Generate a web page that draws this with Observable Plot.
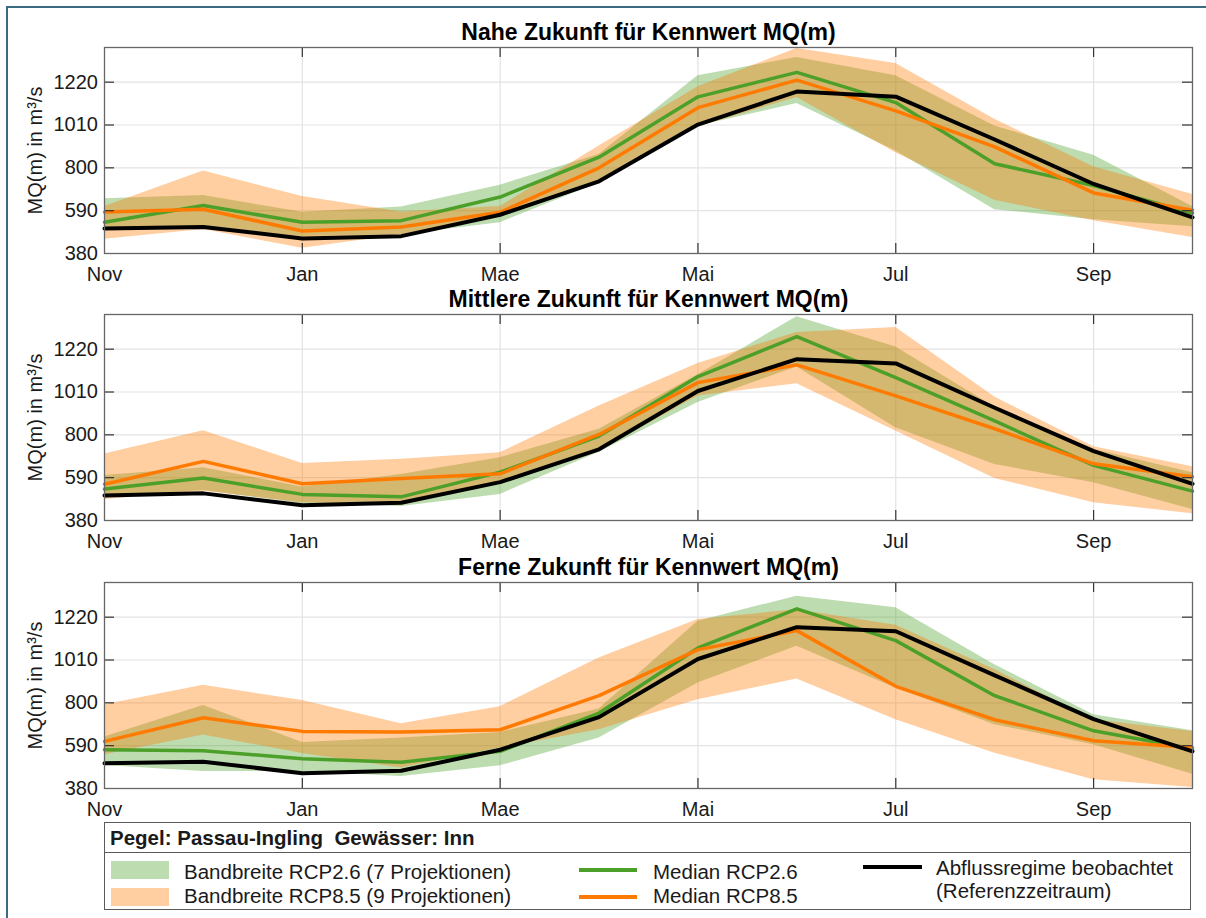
<!DOCTYPE html>
<html><head><meta charset="utf-8">
<script src="https://cdn.jsdelivr.net/npm/d3@7"></script>
<script src="https://cdn.jsdelivr.net/npm/@observablehq/plot@0.6"></script>
<style>
body{margin:0;background:#fff;font-family:"Liberation Sans",Arial,sans-serif;color:#1a1a1a;}
#root{position:relative;width:1206px;height:918px;overflow:hidden;background:#fff;}
.border{position:absolute;left:6px;top:6px;width:1300px;height:1000px;border-left:2.5px solid #3d6a80;border-top:2.5px solid #3d6a80;}
.panel{position:absolute;left:0;}
.legend{position:absolute;left:104px;top:822px;width:1087px;height:88px;border:1px solid #5a5a5a;box-sizing:border-box;background:#fff;}
.lhead{position:absolute;left:0;top:0;width:100%;height:30px;border-bottom:1px solid #5a5a5a;font-weight:bold;font-size:20.5px;line-height:30px;padding-left:5px;box-sizing:border-box;white-space:pre;}
.sw{position:absolute;}
.lt{position:absolute;font-size:20.5px;height:24px;line-height:24px;white-space:pre;}
</style>
</head><body>
<div id="root"><div class="border"></div></div>
<script>
const months = ["Nov","Dez","Jan","Feb","Mae","Apr","Mai","Jun","Jul","Aug","Sep","Okt"];
const xTickIdx = [0, 2, 4, 6, 8, 10];
const yTicks = [380, 590, 800, 1010, 1220];
const yDomain = [380, 1390];

const titles = [
  "Nahe Zukunft für Kennwert MQ(m)",
  "Mittlere Zukunft für Kennwert MQ(m)",
  "Ferne Zukunft für Kennwert MQ(m)"
];

// Panel 1: Nahe Zukunft
const obs1   = [503, 510, 454, 465, 570, 734, 1012, 1174, 1149, 939, 721, 557];
const med26_1 = [533, 615, 533, 541, 657, 852, 1148, 1268, 1120, 820, 713, 578];
const med85_1 = [583, 597, 490, 510, 582, 800, 1095, 1230, 1079, 903, 677, 592];
const lo26_1 = [500, 505, 463, 472, 531, 726, 1005, 1115, 882, 595, 546, 511];
const hi26_1 = [649, 664, 582, 608, 715, 866, 1251, 1341, 1251, 1005, 862, 611];
const lo85_1 = [450, 498, 406, 472, 565, 726, 1000, 1145, 874, 641, 541, 459];
const hi85_1 = [611, 784, 659, 583, 610, 907, 1197, 1385, 1312, 1038, 805, 669];

// Panel 2: Mittlere Zukunft
const obs2   = [503, 513, 455, 467, 568, 729, 1015, 1171, 1150, 933, 720, 560];
const med26_2 = [534, 588, 508, 496, 617, 794, 1086, 1282, 1081, 868, 650, 524];
const med85_2 = [558, 670, 560, 586, 609, 802, 1056, 1143, 991, 830, 658, 594];
const lo26_2 = [491, 527, 462, 449, 508, 715, 958, 1133, 835, 655, 565, 434];
const hi26_2 = [601, 639, 544, 606, 688, 827, 1095, 1379, 1231, 937, 729, 614];
const lo85_2 = [483, 524, 467, 455, 573, 720, 991, 1051, 819, 586, 467, 413];
const hi85_2 = [706, 820, 660, 680, 712, 941, 1150, 1302, 1326, 986, 742, 644];

// Panel 3: Ferne Zukunft
const obs3   = [504, 511, 455, 467, 570, 730, 1015, 1171, 1151, 935, 720, 562];
const med26_3 = [570, 565, 526, 509, 562, 750, 1069, 1261, 1105, 835, 663, 575];
const med85_3 = [611, 727, 660, 657, 668, 835, 1061, 1154, 881, 717, 614, 581];
const lo26_3 = [493, 463, 463, 439, 491, 627, 897, 1077, 873, 693, 594, 450];
const hi26_3 = [632, 787, 606, 627, 655, 770, 1200, 1323, 1266, 987, 742, 663];
const lo85_3 = [545, 642, 552, 480, 578, 668, 815, 917, 717, 553, 423, 385];
const hi85_3 = [791, 886, 811, 698, 781, 1020, 1208, 1257, 1180, 963, 717, 660];

const panels = [
  {obs: obs1, med26: med26_1, med85: med85_1, lo26: lo26_1, hi26: hi26_1, lo85: lo85_1, hi85: hi85_1},
  {obs: obs2, med26: med26_2, med85: med85_2, lo26: lo26_2, hi26: hi26_2, lo85: lo85_2, hi85: hi85_2},
  {obs: obs3, med26: med26_3, med85: med85_3, lo26: lo26_3, hi26: hi26_3, lo85: lo85_3, hi85: hi85_3}
];

const GREEN = "#4ca02a", ORANGE = "#ff7a00", BLACK = "#000000";
const BAND_OP = 0.37;
const frameTops = [46.5, 313.5, 581.5];
const W = 1206, mL = 104, mR = 14, mT = 36, mB = 30, frameH = 206;
const frameW = W - mL - mR;
const tickPx = 10;
const tlY = tickPx * (yDomain[1] - yDomain[0]) / frameH;
const tlX = tickPx * (months.length - 1) / frameW;

const root = document.getElementById("root");

panels.forEach((p, k) => {
  const rows = months.map((m, i) => ({
    i, obs: p.obs[i], med26: p.med26[i], med85: p.med85[i],
    lo26: p.lo26[i], hi26: p.hi26[i], lo85: p.lo85[i], hi85: p.hi85[i]
  }));
  const chart = Plot.plot({
    width: W, height: mT + frameH + mB,
    marginLeft: mL, marginRight: mR, marginTop: mT, marginBottom: mB,
    x: {domain: [0, months.length - 1], axis: null},
    y: {domain: yDomain, axis: null},
    style: {fontSize: "20px", fontFamily: "Liberation Sans, Arial, sans-serif", color: "#1a1a1a", background: "transparent", overflow: "visible"},
    marks: [
      Plot.gridY(yTicks.slice(1), {stroke: "#e3e3e3", strokeOpacity: 1, strokeWidth: 1.2}),
      Plot.gridX(xTickIdx.slice(1), {stroke: "#e3e3e3", strokeOpacity: 1, strokeWidth: 1.2}),
      Plot.areaY(rows, {x: "i", y1: "lo26", y2: "hi26", fill: GREEN, fillOpacity: BAND_OP}),
      Plot.areaY(rows, {x: "i", y1: "lo85", y2: "hi85", fill: ORANGE, fillOpacity: BAND_OP}),
      Plot.lineY(rows, {x: "i", y: "med26", stroke: GREEN, strokeWidth: 3.5}),
      Plot.lineY(rows, {x: "i", y: "med85", stroke: ORANGE, strokeWidth: 3.5}),
      Plot.lineY(rows, {x: "i", y: "obs", stroke: BLACK, strokeWidth: 4}),
      Plot.ruleX(xTickIdx.slice(1), {x: d => d, y1: yDomain[0], y2: yDomain[0] + tlY, stroke: "#333", strokeWidth: 1.2}),
      Plot.ruleX(xTickIdx.slice(1), {x: d => d, y1: yDomain[1] - tlY, y2: yDomain[1], stroke: "#333", strokeWidth: 1.2}),
      Plot.ruleY(yTicks.slice(1), {y: d => d, x1: 0, x2: tlX, stroke: "#333", strokeWidth: 1.2}),
      Plot.ruleY(yTicks.slice(1), {y: d => d, x1: months.length - 1 - tlX, x2: months.length - 1, stroke: "#333", strokeWidth: 1.2}),
      Plot.frame({stroke: "#666", strokeWidth: 1.3}),
      Plot.axisX(xTickIdx, {tickSize: 0, tickPadding: 13, tickFormat: i => months[i], label: null, fontSize: 20}),
      Plot.axisY(yTicks, {tickSize: 0, tickPadding: 6.5, tickFormat: d => String(d), label: null, fontSize: 20}),
      Plot.text([titles[k]], {frameAnchor: "top", dy: -15, text: d => d, fontSize: 23, fontWeight: "bold", lineAnchor: "middle", fill: "#000"}),
      Plot.text(["MQ(m) in m³/s"], {frameAnchor: "left", dx: -69, text: d => d, rotate: -90, fontSize: 20, textAnchor: "middle", lineAnchor: "middle", fill: "#1a1a1a"})
    ]
  });
  const wrap = document.createElement("div");
  wrap.className = "panel";
  wrap.style.top = (frameTops[k] - mT) + "px";
  wrap.appendChild(chart);
  root.appendChild(wrap);
});

// Legend
const legendHead = "Pegel: Passau-Ingling  Gewässer: Inn";
const legendItems = [
  {kind: "band", color: GREEN, label: "Bandbreite RCP2.6 (7 Projektionen)", left: 6, top: 38, w: 58, h: 18, tx: 79, ty: 48.5},
  {kind: "band", color: ORANGE, label: "Bandbreite RCP8.5 (9 Projektionen)", left: 6, top: 65, w: 58, h: 18, tx: 79, ty: 73},
  {kind: "line", color: GREEN, label: "Median RCP2.6", left: 474, top: 47, w: 58, h: 4, tx: 548, ty: 48.5},
  {kind: "line", color: ORANGE, label: "Median RCP8.5", left: 474, top: 74, w: 58, h: 4, tx: 548, ty: 73},
  {kind: "line", color: BLACK, label: "Abflussregime beobachtet", left: 758, top: 44, w: 59, h: 4, tx: 831, ty: 45},
  {kind: "none", color: null, label: "(Referenzzeitraum)", tx: 831, ty: 68}
];
const leg = document.createElement("div");
leg.className = "legend";
const head = document.createElement("div");
head.className = "lhead";
head.textContent = legendHead;
leg.appendChild(head);
legendItems.forEach(it => {
  if (it.kind !== "none") {
    const s = document.createElement("div");
    s.className = "sw";
    s.style.left = it.left + "px";
    s.style.width = it.w + "px";
    s.style.height = it.h + "px";
    s.style.top = (it.kind === "line" ? it.top - it.h / 2 : it.top) + "px";
    s.style.background = it.color;
    if (it.kind === "band") s.style.opacity = BAND_OP;
    leg.appendChild(s);
  }
  const t = document.createElement("div");
  t.className = "lt";
  t.style.left = it.tx + "px";
  t.style.top = (it.ty - 12) + "px";
  t.textContent = it.label;
  leg.appendChild(t);
});
root.appendChild(leg);
</script>
</body></html>
